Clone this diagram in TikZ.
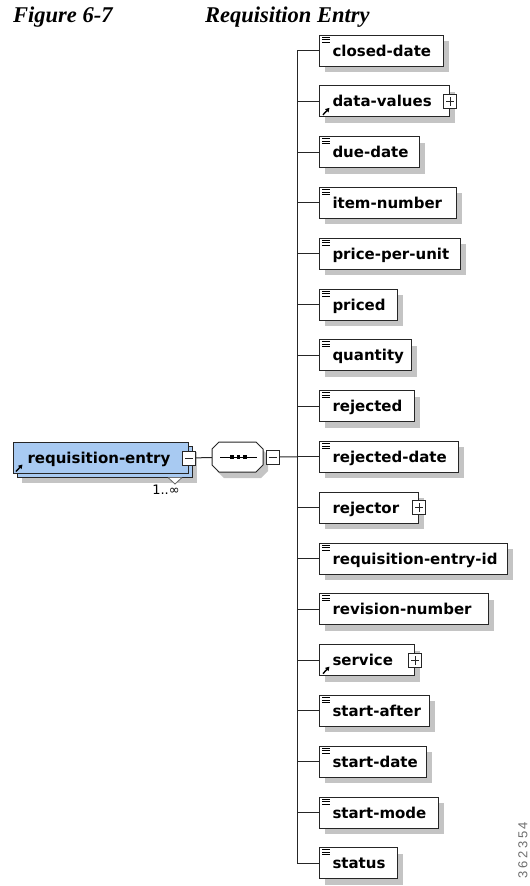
\documentclass[tikz,border=0pt]{standalone}
\usepackage{fontspec}
\usetikzlibrary{shadows,arrows.meta}
\newfontfamily\schemafont{DejaVu Sans}
\newfontfamily\captionfont{Liberation Serif}
\newfontfamily\tagfont[LetterSpace=20]{Liberation Sans}
\newcommand\elemtext{\schemafont\bfseries\fontsize{15bp}{18bp}\selectfont}
\definecolor{elemblue}{RGB}{168,202,242}
\definecolor{shadowgray}{RGB}{196,196,196}
\definecolor{tagGray}{RGB}{110,110,110}
\tikzset{
  elembase/.style={draw=black!85, line width=1bp, fill=white, minimum height=31bp,
    inner xsep=0, inner ysep=0, align=left, anchor=west, font=\elemtext,
    text height=12bp, text depth=1bp},
  elem/.style={elembase, drop shadow={shadow xshift=5bp, shadow yshift=-6bp,
    fill=shadowgray, opacity=1}},
  pmbox/.style={draw=black!85, line width=0.8bp, fill=white, minimum width=13bp,
    minimum height=14bp, inner sep=0},
  minusbox/.style={pmbox, path picture={
    \draw[line width=0.9bp] ([xshift=2.5bp]path picture bounding box.west)
      -- ([xshift=-2.5bp]path picture bounding box.east);}},
  plusbox/.style={pmbox, path picture={
    \draw[line width=0.9bp] ([xshift=2.5bp]path picture bounding box.west)
      -- ([xshift=-2.5bp]path picture bounding box.east);
    \draw[line width=0.9bp] ([yshift=2.5bp]path picture bounding box.south)
      -- ([yshift=-2.5bp]path picture bounding box.north);}},
  conn/.style={line width=1bp, black!85},
  refarrow/.style={line width=1.4bp, -{Triangle[length=4bp,width=4.5bp]}},
  simplemark/.style={line width=0.7bp},
  captiontext/.style={font=\captionfont\bfseries\itshape\fontsize{22.5bp}{26bp}\selectfont,
    anchor=base west, inner sep=0},
}
\begin{document}
\begin{tikzpicture}[x=1bp,y=-1bp]
\useasboundingbox (0,0) rectangle (530,886);

% caption
\node[captiontext] (fig) at (13,22) {Figure 6-7};
\node[captiontext] (ttl) at (205,22) {Requisition Entry};

% child elements of the sequence
\foreach \n/\lbl/\w/\k [count=\i from 0] in {
  cd/closed-date/124/0,
  dv/data-values/130/1,
  dd/due-date/100/0,
  inum/item-number/137/0,
  ppu/price-per-unit/141/0,
  pr/priced/78/0,
  qt/quantity/92/0,
  rj/rejected/95/0,
  rjd/rejected-date/139/0,
  rjr/rejector/99/2,
  rid/requisition-entry-id/188/0,
  rn/revision-number/169/0,
  sv/service/95/1,
  sa/start-after/110/0,
  sd/start-date/107/0,
  sm/start-mode/119/0,
  st/status/78/0}
{
  \pgfmathsetmacro\yy{50.5+50.8*\i}
  \coordinate (j\i) at (297,\yy);
  \node[elem, text width=\w bp] (\n) at (319,\yy) {\hspace*{13bp}\mbox{\lbl}};
  \draw[conn] (j\i) -- (\n.west);
  \ifcase\k
    \foreach \o in {2.5,5,7.5}
      \draw[simplemark] ([xshift=3bp,yshift=-\o bp]\n.north west) -- ++(8,0);
  \or
    \draw[refarrow] ([xshift=4bp,yshift=2.5bp]\n.south west) -- ++(6.5,-7);
    \node[plusbox] (\n-p) at (\n.east) {};
  \or
    \node[plusbox] (\n-p) at (\n.east) {};
  \fi
}
\draw[conn] (j0) -- (j16);

% root element (stacked, repeated)
\fill[shadowgray] (22,452) rectangle (197,483);
\draw[fill=elemblue, line width=1bp, draw=black!85] (17,446) rectangle (192,477);
\node[elembase, fill=elemblue, text width=175bp, anchor=north west] (re) at (13,442)
  {\hspace*{14bp}\mbox{requisition-entry}};
\draw[refarrow] ([xshift=3bp,yshift=2.5bp]re.south west) -- ++(6.5,-7);
\node[minusbox] (reM) at (re.east) {};
\draw[black!60, fill=white, line width=0.8bp] (168,477.5) -- (175,484) -- (182,477.5);
\node[font=\schemafont\fontsize{13bp}{15bp}\selectfont] (card) at (166,490) {1..∞};

% sequence compositor
\node[minimum width=51bp, minimum height=30bp, inner sep=0] (seq) at (237.5,457) {};
\fill[shadowgray] (224,448) -- (261,448) -- (268,455) -- (268,471) -- (261,478)
  -- (224,478) -- (217,471) -- (217,455) -- cycle;
\draw[fill=white, line width=1bp, draw=black!85] (219,442) -- (256,442) -- (263,449)
  -- (263,465) -- (256,472) -- (219,472) -- (212,465) -- (212,449) -- cycle;
\draw[line width=1bp] (220,457) -- (257,457);
\foreach \x in {232,238.5,245}
  \fill (\x-1.8,455.2) rectangle (\x+1.8,458.8);
\node[minusbox] (seqM) at (272.5,457) {};

\draw[conn] (reM) -- (seq);
\draw[conn] (seqM) -- (j8);

% figure number
\node[font=\tagfont\fontsize{13bp}{15bp}\selectfont, text=tagGray, rotate=90]
  (fignum) at (523,850) {362354};
\end{tikzpicture}
\end{document}
